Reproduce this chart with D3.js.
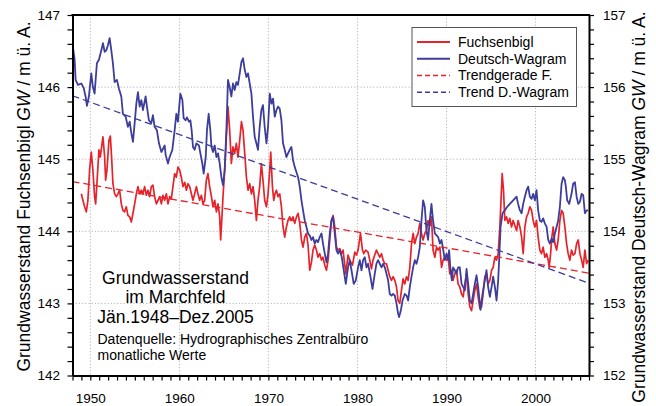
<!DOCTYPE html>
<html><head><meta charset="utf-8">
<script src="https://cdn.jsdelivr.net/npm/d3@7"></script>
<style>
body{margin:0;background:#fff}
svg{display:block}
text{font-family:"Liberation Sans",Arial,Helvetica,sans-serif;fill:#000}
</style>
</head><body>
<svg id="c" width="656" height="406"></svg>
<script>
// ---------- data ----------
const yearDomain = [1948, 2006];
const fuchsenbiglDomain = [142, 147];
const wagramDomain = [152, 157];
const xTickLabels = [1950, 1960, 1970, 1980, 1990, 2000];
const leftTickLabels = [142, 143, 144, 145, 146, 147];
const rightTickLabels = [152, 153, 154, 155, 156, 157];

// Fuchsenbigl groundwater level [year, m ü. A.]
const fuchsenbigl = [[1948.99,144.52],[1949.17,144.43],[1949.36,144.34],[1949.55,144.27],[1949.73,144.43],[1949.92,144.85],[1950.11,145.10],[1950.29,144.85],[1950.48,144.48],[1950.60,144.38],[1950.74,144.66],[1950.97,145.13],[1951.12,145.03],[1951.27,145.17],[1951.42,145.31],[1951.61,145.03],[1951.72,144.71],[1951.87,144.85],[1952.09,145.26],[1952.25,145.32],[1952.39,145.03],[1952.54,144.66],[1952.73,144.52],[1952.92,144.48],[1953.10,144.52],[1953.29,144.57],[1953.48,144.38],[1953.66,144.29],[1953.85,144.27],[1954.04,144.34],[1954.22,144.22],[1954.42,144.20],[1954.61,144.13],[1954.79,144.25],[1954.98,144.38],[1955.17,144.52],[1955.35,144.62],[1955.54,144.52],[1955.73,144.57],[1955.91,144.52],[1956.10,144.62],[1956.29,144.50],[1956.47,144.57],[1956.66,144.48],[1956.85,144.62],[1957.03,144.64],[1957.22,144.48],[1957.42,144.38],[1957.60,144.43],[1957.79,144.48],[1957.98,144.38],[1958.16,144.50],[1958.35,144.43],[1958.54,144.52],[1958.72,144.38],[1958.91,144.48],[1959.10,144.45],[1959.28,144.62],[1959.47,144.80],[1959.66,144.75],[1959.84,144.89],[1960.03,144.85],[1960.22,144.75],[1960.40,144.62],[1960.60,144.68],[1960.79,144.57],[1960.97,144.66],[1961.16,144.62],[1961.35,144.52],[1961.53,144.43],[1961.72,144.52],[1961.91,144.62],[1962.09,144.52],[1962.28,144.43],[1962.47,144.50],[1962.65,144.38],[1962.84,144.43],[1963.03,144.71],[1963.21,144.80],[1963.40,144.62],[1963.60,144.48],[1963.78,144.34],[1963.97,144.43],[1964.16,144.27],[1964.34,144.38],[1964.53,144.20],[1964.64,143.88],[1964.79,144.22],[1964.90,144.48],[1965.09,144.85],[1965.28,145.31],[1965.46,145.73],[1965.65,145.40],[1965.84,144.94],[1966.02,145.17],[1966.21,145.08],[1966.40,145.22],[1966.58,145.03],[1966.78,145.26],[1966.97,145.52],[1967.15,145.40],[1967.34,145.08],[1967.53,144.75],[1967.71,144.57],[1967.90,144.66],[1968.09,144.52],[1968.27,144.62],[1968.46,144.43],[1968.65,144.15],[1968.83,144.43],[1969.02,144.62],[1969.21,144.94],[1969.39,144.71],[1969.58,144.43],[1969.78,144.34],[1969.96,144.52],[1970.15,144.85],[1970.26,145.10],[1970.45,144.62],[1970.60,144.43],[1970.74,144.52],[1970.90,144.57],[1971.08,144.48],[1971.27,144.52],[1971.46,144.34],[1971.64,144.06],[1971.83,143.92],[1972.02,144.06],[1972.20,144.15],[1972.39,144.20],[1972.58,144.15],[1972.76,144.20],[1972.96,144.11],[1973.15,144.20],[1973.33,144.25],[1973.52,144.11],[1973.71,143.88],[1973.89,143.78],[1974.08,143.92],[1974.27,143.97],[1974.45,143.81],[1974.64,143.46],[1974.83,143.57],[1975.01,143.74],[1975.20,143.81],[1975.39,143.74],[1975.57,143.64],[1975.76,143.69],[1975.96,143.60],[1976.13,143.64],[1976.33,143.53],[1976.52,143.46],[1976.70,143.60],[1976.89,143.88],[1977.08,144.15],[1977.26,144.22],[1977.45,144.06],[1977.64,143.78],[1977.82,143.74],[1978.01,143.76],[1978.20,143.69],[1978.38,143.74],[1978.69,143.41],[1978.94,143.67],[1979.13,143.60],[1979.44,143.53],[1979.70,143.71],[1979.89,143.67],[1980.07,143.74],[1980.34,143.97],[1980.56,143.74],[1980.71,143.69],[1980.93,143.74],[1981.19,143.71],[1981.38,143.60],[1981.57,143.48],[1981.75,143.60],[1981.94,143.67],[1982.13,143.74],[1982.31,143.69],[1982.51,143.64],[1982.70,143.69],[1982.88,143.60],[1983.07,143.55],[1983.26,143.55],[1983.44,143.46],[1983.63,143.37],[1983.82,143.32],[1984.00,143.37],[1984.19,143.32],[1984.38,143.23],[1984.56,143.04],[1984.75,143.00],[1984.94,143.18],[1985.12,143.34],[1985.31,143.27],[1985.51,143.37],[1985.69,143.32],[1985.88,143.50],[1986.07,143.83],[1986.25,143.97],[1986.44,143.83],[1986.63,143.92],[1986.81,143.97],[1987.00,144.11],[1987.19,143.97],[1987.37,143.88],[1987.56,143.97],[1987.75,144.01],[1987.93,144.15],[1988.12,144.08],[1988.31,144.20],[1988.49,143.74],[1988.69,143.64],[1988.88,143.78],[1989.06,143.74],[1989.25,143.78],[1989.44,143.50],[1989.62,143.60],[1989.81,143.64],[1990.00,143.60],[1990.18,143.64],[1990.37,143.41],[1990.56,143.46],[1990.74,143.32],[1990.93,143.41],[1991.12,143.46],[1991.30,143.27],[1991.49,143.23],[1991.69,143.13],[1991.87,143.09],[1992.06,143.27],[1992.25,143.41],[1992.43,143.13],[1992.62,142.95],[1992.81,142.90],[1992.99,143.04],[1993.18,143.18],[1993.37,143.27],[1993.55,143.09],[1993.74,142.93],[1993.93,142.95],[1994.11,143.13],[1994.30,143.37],[1994.49,143.41],[1994.67,143.27],[1994.87,143.32],[1995.06,143.46],[1995.24,143.50],[1995.43,143.64],[1995.62,143.60],[1995.80,143.69],[1995.99,144.06],[1996.25,144.80],[1996.40,144.57],[1996.55,144.15],[1996.74,144.20],[1996.92,144.11],[1997.11,144.18],[1997.30,144.06],[1997.48,144.15],[1997.67,144.08],[1997.87,144.01],[1998.04,144.15],[1998.24,144.06],[1998.43,143.92],[1998.61,143.69],[1998.80,144.06],[1998.99,144.20],[1999.17,144.25],[1999.36,144.34],[1999.55,144.29],[1999.73,144.15],[1999.92,144.06],[2000.11,144.15],[2000.29,143.92],[2000.48,143.74],[2000.67,143.69],[2000.85,143.78],[2001.04,143.64],[2001.24,143.69],[2001.42,143.60],[2001.53,143.50],[2001.69,143.69],[2001.83,143.92],[2001.98,144.06],[2002.17,143.83],[2002.36,143.74],[2002.54,143.88],[2002.73,144.15],[2002.92,144.29],[2003.10,144.25],[2003.29,144.06],[2003.48,143.83],[2003.66,143.69],[2003.85,143.60],[2004.04,143.74],[2004.22,143.67],[2004.42,143.69],[2004.61,143.83],[2004.79,143.88],[2004.98,143.69],[2005.17,143.60],[2005.35,143.50],[2005.54,143.74],[2005.73,143.55],[2005.91,143.60]];

// Deutsch-Wagram groundwater level [year, m ü. A.]
const wagram = [[1948.04,156.56],[1948.24,156.38],[1948.35,156.10],[1948.61,156.03],[1948.99,156.05],[1949.25,155.99],[1949.47,155.87],[1949.62,155.74],[1949.84,155.87],[1950.11,156.19],[1950.29,156.00],[1950.48,155.91],[1950.74,156.33],[1950.97,156.38],[1951.24,156.51],[1951.42,156.61],[1951.61,156.49],[1951.80,156.51],[1951.98,156.58],[1952.17,156.68],[1952.36,156.51],[1952.54,156.33],[1952.73,156.07],[1952.99,156.10],[1953.21,155.98],[1953.48,155.87],[1953.66,155.63],[1953.97,155.59],[1954.22,155.45],[1954.42,155.52],[1954.61,155.36],[1954.79,155.24],[1954.98,155.50],[1955.17,155.77],[1955.35,155.93],[1955.54,155.73],[1955.73,155.82],[1955.91,155.68],[1956.21,155.87],[1956.36,155.73],[1956.58,155.54],[1956.85,155.50],[1957.03,155.61],[1957.22,155.45],[1957.48,155.40],[1957.71,155.22],[1957.98,155.10],[1958.35,155.19],[1958.46,155.06],[1958.72,154.94],[1958.91,155.03],[1959.21,155.13],[1959.47,155.40],[1959.66,155.63],[1959.84,155.52],[1960.11,155.91],[1960.34,155.82],[1960.48,155.57],[1960.71,155.54],[1960.85,155.58],[1961.08,155.52],[1961.24,155.54],[1961.38,155.40],[1961.53,155.17],[1961.72,155.13],[1961.91,155.22],[1962.20,155.19],[1962.36,155.08],[1962.58,154.94],[1962.73,154.80],[1962.96,155.03],[1963.10,155.40],[1963.29,155.63],[1963.48,155.40],[1963.60,155.17],[1963.78,155.10],[1963.97,155.19],[1964.16,155.03],[1964.34,155.08],[1964.53,154.94],[1964.72,154.75],[1964.90,154.64],[1965.09,154.85],[1965.28,155.40],[1965.46,156.10],[1965.65,156.00],[1965.84,155.87],[1966.02,156.05],[1966.21,155.96],[1966.40,156.07],[1966.58,156.03],[1966.78,156.19],[1966.97,156.35],[1967.15,156.40],[1967.34,156.24],[1967.53,156.14],[1967.71,156.19],[1967.90,156.05],[1968.09,155.91],[1968.27,155.59],[1968.46,155.31],[1968.65,155.22],[1968.83,155.13],[1969.02,155.45],[1969.21,155.68],[1969.39,155.75],[1969.58,155.45],[1969.78,155.22],[1969.96,155.45],[1970.15,155.91],[1970.34,155.77],[1970.52,155.84],[1970.71,155.59],[1970.90,155.68],[1971.08,155.73],[1971.27,155.70],[1971.46,155.54],[1971.64,155.22],[1971.83,155.13],[1972.02,155.03],[1972.20,155.08],[1972.39,155.13],[1972.58,155.17],[1972.76,154.99],[1972.96,154.89],[1973.15,154.82],[1973.33,154.75],[1973.52,154.62],[1973.71,154.43],[1973.89,154.29],[1974.08,154.15],[1974.27,154.06],[1974.45,153.97],[1974.64,153.94],[1974.83,153.88],[1975.01,153.92],[1975.20,153.83],[1975.39,153.88],[1975.57,153.85],[1975.76,153.92],[1975.96,153.97],[1976.13,153.83],[1976.33,153.69],[1976.52,153.57],[1976.70,153.69],[1976.89,153.97],[1977.08,154.15],[1977.26,154.20],[1977.45,153.97],[1977.64,153.74],[1977.82,153.69],[1978.01,153.74],[1978.24,153.64],[1978.69,153.27],[1978.94,153.50],[1979.13,153.60],[1979.33,153.46],[1979.58,153.27],[1979.81,153.32],[1980.07,153.50],[1980.26,153.60],[1980.45,153.46],[1980.63,153.60],[1980.82,153.64],[1981.01,153.50],[1981.19,153.55],[1981.46,153.37],[1981.69,153.20],[1981.94,153.41],[1982.13,153.55],[1982.31,153.60],[1982.51,153.55],[1982.70,153.50],[1982.88,153.55],[1983.07,153.50],[1983.26,153.41],[1983.44,153.32],[1983.63,153.13],[1983.82,153.11],[1984.00,153.13],[1984.19,153.11],[1984.38,153.00],[1984.56,152.86],[1984.67,152.81],[1984.87,152.90],[1985.06,153.04],[1985.31,153.13],[1985.51,153.11],[1985.69,153.04],[1985.88,153.23],[1986.07,153.37],[1986.25,153.50],[1986.44,153.60],[1986.63,153.55],[1986.81,153.64],[1987.00,153.78],[1987.19,154.15],[1987.37,154.43],[1987.56,154.34],[1987.75,154.01],[1987.93,153.88],[1988.12,154.15],[1988.31,154.38],[1988.49,154.15],[1988.69,153.97],[1989.06,153.92],[1989.25,153.83],[1989.44,153.88],[1989.70,153.69],[1989.81,153.60],[1990.00,153.69],[1990.18,153.60],[1990.29,153.74],[1990.45,153.46],[1990.60,153.32],[1990.74,153.50],[1990.93,153.46],[1991.12,153.41],[1991.30,153.50],[1991.49,153.50],[1991.69,153.27],[1991.87,153.23],[1992.06,153.18],[1992.25,153.48],[1992.43,153.27],[1992.62,153.04],[1992.81,153.00],[1992.99,153.13],[1993.18,153.27],[1993.37,153.39],[1993.55,153.23],[1993.74,153.00],[1993.82,152.91],[1994.04,153.13],[1994.30,153.32],[1994.49,153.46],[1994.67,153.23],[1994.87,153.09],[1995.06,153.23],[1995.24,153.37],[1995.43,153.23],[1995.62,153.04],[1995.80,153.32],[1995.91,153.60],[1996.07,154.06],[1996.29,154.25],[1996.55,154.29],[1996.81,154.34],[1997.11,154.38],[1997.48,154.43],[1997.87,154.48],[1998.04,154.38],[1998.24,154.29],[1998.43,154.25],[1998.61,154.38],[1998.80,154.48],[1998.99,154.57],[1999.17,154.62],[1999.36,154.48],[1999.55,154.45],[1999.73,154.52],[1999.92,154.43],[2000.11,154.57],[2000.29,154.29],[2000.48,154.15],[2000.67,154.13],[2000.85,154.18],[2001.04,154.11],[2001.24,154.06],[2001.42,153.88],[2001.61,153.83],[2001.80,153.90],[2001.98,153.85],[2002.17,153.97],[2002.36,154.06],[2002.54,154.15],[2002.73,154.34],[2002.92,154.66],[2003.10,154.75],[2003.29,154.71],[2003.40,154.62],[2003.55,154.43],[2003.78,154.38],[2004.04,154.52],[2004.22,154.66],[2004.42,154.68],[2004.61,154.48],[2004.79,154.38],[2004.98,154.41],[2005.17,154.52],[2005.35,154.50],[2005.54,154.25],[2005.73,154.29],[2005.91,154.29]];

const trendFuchsenbigl = [[1948, 144.69], [2006, 143.42]];
const trendWagram = [[1948, 155.88], [2006, 153.28]];

const legendLabels = ["Fuchsenbigl", "Deutsch-Wagram", "Trendgerade F.", "Trend D.-Wagram"];
const infoTitle = ["Grundwasserstand", "im Marchfeld", "Jän.1948–Dez.2005"];
const infoSource = ["Datenquelle: Hydrographisches Zentralbüro", "monatliche Werte"];

// ---------- drawing ----------
const RED = "#e6232b", BLUE = "#3d3d9c";
const svg = d3.select("#c");
const L = 72.5, R = 589, T = 15, B = 375.5;
const x = d3.scaleLinear().domain(yearDomain).range([L, R]);
const yL = d3.scaleLinear().domain(fuchsenbiglDomain).range([B, T]);
const yR = d3.scaleLinear().domain(wagramDomain).range([B, T]);

svg.append("rect").attr("width", 656).attr("height", 406).attr("fill", "#fff");

// grid
const grid = svg.append("g").attr("stroke", "#b4b4b4").attr("stroke-width", 1).attr("stroke-dasharray", "1.2,2");
grid.selectAll("line.v").data(xTickLabels).join("line")
  .attr("x1", d => x(d)).attr("x2", d => x(d)).attr("y1", T).attr("y2", B);
grid.selectAll("line.h").data(leftTickLabels.filter(d => d > 142 && d < 147)).join("line")
  .attr("x1", L).attr("x2", R).attr("y1", d => yL(d)).attr("y2", d => yL(d));

// clip
svg.append("clipPath").attr("id", "clip").append("rect")
  .attr("x", L).attr("y", T).attr("width", R - L).attr("height", B - T);
const plot = svg.append("g").attr("clip-path", "url(#clip)");

const lineL = d3.line().x(d => x(d[0])).y(d => yL(d[1]));
const lineR = d3.line().x(d => x(d[0])).y(d => yR(d[1]));

plot.append("path").datum(fuchsenbigl).attr("d", lineL)
  .attr("fill", "none").attr("stroke", RED).attr("stroke-width", 1.7).attr("stroke-linejoin", "round");
plot.append("path").datum(wagram).attr("d", lineR)
  .attr("fill", "none").attr("stroke", BLUE).attr("stroke-width", 1.8).attr("stroke-linejoin", "round");
plot.append("path").datum(trendFuchsenbigl).attr("d", lineL)
  .attr("fill", "none").attr("stroke", RED).attr("stroke-width", 1.3).attr("stroke-dasharray", "7,4");
plot.append("path").datum(trendWagram).attr("d", lineR)
  .attr("fill", "none").attr("stroke", BLUE).attr("stroke-width", 1.3).attr("stroke-dasharray", "7,4");

// axes
const fs = "13.5px";
const minorYears = d3.range(yearDomain[0], yearDomain[1] + 1);
const xAxis = d3.axisBottom(x).tickValues(minorYears).tickSize(5).tickSizeOuter(0).tickPadding(13)
  .tickFormat(d => xTickLabels.includes(d) ? String(d) : "");
const leftMinor = d3.range(0, 26).map(i => +(fuchsenbiglDomain[0] + i * 0.2).toFixed(1));
const rightMinor = d3.range(0, 26).map(i => +(wagramDomain[0] + i * 0.2).toFixed(1));
const yAxisL = d3.axisLeft(yL).tickValues(leftMinor).tickSize(5).tickSizeOuter(0).tickPadding(7.5)
  .tickFormat(d => leftTickLabels.includes(d) ? String(d) : "");
const yAxisR = d3.axisRight(yR).tickValues(rightMinor).tickSize(5).tickSizeOuter(0).tickPadding(9)
  .tickFormat(d => rightTickLabels.includes(d) ? String(d) : "");

function styleAxis(g) {
  g.select(".domain").attr("stroke", "#000").attr("stroke-width", 2);
  g.selectAll(".tick line").attr("stroke", "#000").attr("stroke-width", 1.2);
  g.selectAll(".tick text").attr("font-size", fs).attr("font-family", '"Liberation Sans",Arial,sans-serif').attr("fill", "#111");
}
svg.append("g").attr("transform", `translate(0,${B})`).call(xAxis).call(styleAxis);
svg.append("g").attr("transform", `translate(${L},0)`).call(yAxisL).call(styleAxis);
svg.append("g").attr("transform", `translate(${R},0)`).call(yAxisR).call(styleAxis);
svg.append("line").attr("x1", L - 1).attr("x2", R + 1).attr("y1", T).attr("y2", T)
  .attr("stroke", "#000").attr("stroke-width", 2);

// axis titles
function axisTitle(tx, ty, name) {
  const t = svg.append("text").attr("transform", `translate(${tx},${ty}) rotate(-90)`)
    .attr("text-anchor", "middle").attr("font-size", "17.5px").attr("fill", "#111");
  t.append("tspan").text(`Grundwasserstand ${name} `);
  t.append("tspan").attr("font-style", "italic").text("GW");
  t.append("tspan").text(" / m ü. A.");
}
axisTitle(29.5, 196.5, "Fuchsenbigl");
axisTitle(644.5, 207, "Deutsch-Wagram");

// legend
const lg = svg.append("g");
lg.append("rect").attr("x", 412).attr("y", 27.5).attr("width", 164.5).attr("height", 79)
  .attr("fill", "#fff").attr("stroke", "#555").attr("stroke-width", 1);
const legendStyles = [
  {c: RED, w: 2, dash: null}, {c: BLUE, w: 2, dash: null},
  {c: RED, w: 1.4, dash: "5,3"}, {c: BLUE, w: 1.4, dash: "5,3"}];
legendLabels.forEach((lab, i) => {
  const cy = 42 + i * 16.75;
  lg.append("line").attr("x1", 417).attr("x2", 450).attr("y1", cy).attr("y2", cy)
    .attr("stroke", legendStyles[i].c).attr("stroke-width", legendStyles[i].w)
    .attr("stroke-dasharray", legendStyles[i].dash);
  lg.append("text").attr("x", 458).attr("y", cy + 4.8).attr("font-size", "14px").attr("fill", "#111").text(lab);
});

// info text
infoTitle.forEach((s, i) => {
  svg.append("text").attr("x", 175.5).attr("y", 283.5 + i * 19.7).attr("text-anchor", "middle")
    .attr("font-size", "17.5px").attr("fill", "#111").text(s);
});
infoSource.forEach((s, i) => {
  svg.append("text").attr("x", 97.5).attr("y", 343.5 + i * 16.5)
    .attr("font-size", "14px").attr("fill", "#111").text(s);
});
</script>
</body></html>
